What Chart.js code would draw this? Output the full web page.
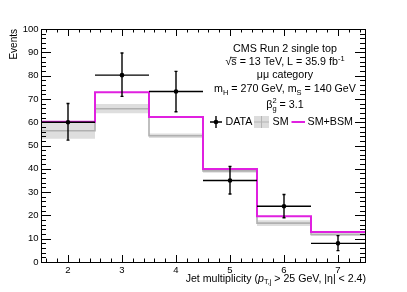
<!DOCTYPE html>
<html>
<head>
<meta charset="utf-8">
<script src="https://cdn.jsdelivr.net/npm/chart.js@4.4.0/dist/chart.umd.min.js"></script>
<style>
  html, body { margin: 0; padding: 0; background: #fff; }
  #wrap { width: 407px; height: 292px; }
</style>
</head>
<body>
<div id="wrap"><canvas id="chart" width="407" height="292"></canvas></div>
<script>
// bins of jet multiplicity
const binEdges = [1.5, 2.5, 3.5, 4.5, 5.5, 6.5, 7.5];
const jetBins = [2, 3, 4, 5, 6, 7];
const xTickLabels = ['2', '3', '4', '5', '6', '7'];

// observed data with asymmetric errors
const dataValues = [60, 80.2, 73.2, 35, 23.9, 8];
const dataErrUp = [8, 9.5, 8.6, 6, 5.1, 3.3];
const dataErrDown = [7.7, 9.1, 8.7, 5.8, 4.9, 3.1];

// SM prediction and its uncertainty band
const smValues = [56.3, 65.8, 54.2, 39.1, 16.7, 11.8];
const smErr = [3.4, 2, 1, 0.8, 1.2, 0.6];

// SM+BSM prediction
const bsmValues = [60.2, 72.9, 62.2, 39.9, 19.6, 12.9];

const FONT = '"Liberation Sans", Arial, Helvetica, sans-serif';

// histogram as stepped line: one point per left edge + closing point
function stepPoints(vals) {
    const pts = vals.map((v, i) => ({ x: binEdges[i], y: v }));
    pts.push({ x: binEdges[binEdges.length - 1], y: vals[vals.length - 1] });
    return pts;
}

function drawRich(ctx, segs, x, y, align, size) {
    let total = 0;
    segs.forEach(s => {
        ctx.font = `${s.italic ? 'italic ' : ''}${size * (s.scale || 1)}px ${FONT}`;
        s.w = ctx.measureText(s.t).width;
        if (!s.stack) total += s.w;
    });
    let cx = align === 'center' ? x - total / 2 : (align === 'right' ? x - total : x);
    let lastW = 0;
    ctx.textAlign = 'left';
    ctx.textBaseline = 'middle';
    segs.forEach(s => {
        ctx.font = `${s.italic ? 'italic ' : ''}${size * (s.scale || 1)}px ${FONT}`;
        if (s.stack) {
            ctx.fillText(s.t, cx - lastW, y + (s.dy || 0));
        } else {
            ctx.fillText(s.t, cx, y + (s.dy || 0));
            if (s.overline) {
                ctx.beginPath();
                ctx.lineWidth = 0.8;
                ctx.moveTo(cx - 1, y - size * 0.45);
                ctx.lineTo(cx + s.w, y - size * 0.45);
                ctx.stroke();
            }
            cx += s.w;
            lastW = s.w;
        }
    });
}

const decorPlugin = {
    id: 'decor',
    afterDatasetsDraw(chart) {
        const ctx = chart.ctx;
        const xs = chart.scales.x, ys = chart.scales.y, a = chart.chartArea;
        ctx.save();
        ctx.strokeStyle = '#000';
        ctx.fillStyle = '#000';

        // data points with error bars
        ctx.lineWidth = 1.4;
        jetBins.forEach((c, i) => {
            const px = xs.getPixelForValue(c);
            const py = ys.getPixelForValue(dataValues[i]);
            const x0 = xs.getPixelForValue(c - 0.5), x1 = xs.getPixelForValue(c + 0.5);
            const yt = ys.getPixelForValue(dataValues[i] + dataErrUp[i]);
            const yb = ys.getPixelForValue(dataValues[i] - dataErrDown[i]);
            ctx.beginPath();
            ctx.moveTo(x0, py); ctx.lineTo(x1, py);
            ctx.moveTo(px, yt); ctx.lineTo(px, yb);
            ctx.moveTo(px - 1.5, yt); ctx.lineTo(px + 1.5, yt);
            ctx.moveTo(px - 1.5, yb); ctx.lineTo(px + 1.5, yb);
            ctx.stroke();
            ctx.beginPath();
            ctx.arc(px, py, 2.3, 0, Math.PI * 2);
            ctx.fill();
        });

        // frame
        ctx.lineWidth = 1;
        ctx.strokeRect(Math.round(a.left) + 0.5, Math.round(a.top) + 0.5,
            Math.round(a.right - a.left), Math.round(a.bottom - a.top));

        // x ticks (bottom and top, inward)
        ctx.beginPath();
        for (let k = 8; k <= 37; k++) {
            const px = Math.round(xs.getPixelForValue(k / 5)) + 0.5;
            const len = k % 5 === 0 ? 7 : 3.5;
            ctx.moveTo(px, a.bottom); ctx.lineTo(px, a.bottom - len);
            ctx.moveTo(px, a.top); ctx.lineTo(px, a.top + len);
        }
        // y ticks (left and right, inward)
        for (let k = 1; k < 50; k++) {
            const py = Math.round(ys.getPixelForValue(k * 2)) + 0.5;
            const len = k % 5 === 0 ? 10 : 5;
            ctx.moveTo(a.left, py); ctx.lineTo(a.left + len, py);
            ctx.moveTo(a.right, py); ctx.lineTo(a.right - len, py);
        }
        ctx.stroke();

        // axis titles
        ctx.save();
        ctx.translate(14, 29);
        ctx.rotate(-Math.PI / 2);
        ctx.font = `10px ${FONT}`;
        ctx.textAlign = 'right';
        ctx.textBaseline = 'middle';
        ctx.fillText('Events', 0, 0);
        ctx.restore();

        drawRich(ctx, [
            { t: 'Jet multiplicity (' },
            { t: 'p', italic: true },
            { t: 'T,j', scale: 0.7, dy: 3 },
            { t: ' > 25 GeV, |\u03b7| < 2.4)' }
        ], 366, 279, 'right', 10.6);

        // info text
        const cx = 285;
        drawRich(ctx, [{ t: 'CMS Run 2 single top' }], cx, 49, 'center', 10.7);
        drawRich(ctx, [
            { t: '\u221a' }, { t: 's', overline: true },
            { t: ' = 13 TeV, L = 35.9 fb' }, { t: '-1', scale: 0.7, dy: -4 }
        ], cx, 62.5, 'center', 10.7);
        drawRich(ctx, [{ t: '\u03bc\u03bc category' }], cx, 75.5, 'center', 10.7);
        drawRich(ctx, [
            { t: 'm' }, { t: 'H', scale: 0.7, dy: 3.5 },
            { t: ' = 270 GeV, m' }, { t: 'S', scale: 0.7, dy: 3.5 },
            { t: ' = 140 GeV' }
        ], cx, 89.5, 'center', 10.7);
        drawRich(ctx, [
            { t: '\u03b2' }, { t: 'g', scale: 0.7, dy: 4 }, { t: '2', scale: 0.7, dy: -4, stack: true },
            { t: ' = 3.1' }
        ], cx, 105, 'center', 10.7);

        // legend
        const ly = 122;
        ctx.lineWidth = 1.4;
        ctx.beginPath();
        ctx.moveTo(210, ly); ctx.lineTo(222, ly);
        ctx.moveTo(216, ly - 6); ctx.lineTo(216, ly + 6);
        ctx.stroke();
        ctx.beginPath(); ctx.arc(216, ly, 2.3, 0, Math.PI * 2); ctx.fill();
        drawRich(ctx, [{ t: 'DATA' }], 225.5, ly, 'left', 10.7);

        ctx.fillStyle = '#dcdcdc';
        ctx.fillRect(254, ly - 6, 15, 12);
        ctx.strokeStyle = '#b4b4b4';
        ctx.lineWidth = 1;
        ctx.beginPath();
        ctx.moveTo(254, ly); ctx.lineTo(269, ly);
        ctx.moveTo(261.5, ly - 6); ctx.lineTo(261.5, ly + 6);
        ctx.stroke();
        ctx.fillStyle = '#000';
        drawRich(ctx, [{ t: 'SM' }], 272.5, ly, 'left', 10.7);

        ctx.strokeStyle = '#e020e0';
        ctx.lineWidth = 2;
        ctx.beginPath();
        ctx.moveTo(291.5, ly); ctx.lineTo(305, ly);
        ctx.stroke();
        drawRich(ctx, [{ t: 'SM+BSM' }], 307.5, ly, 'left', 10.7);

        ctx.restore();
    }
};

const smUpper = smValues.map((v, i) => v + smErr[i]);
const smLower = smValues.map((v, i) => v - smErr[i]);

new Chart(document.getElementById('chart'), {
    type: 'line',
    data: {
        datasets: [
            {
                label: 'SM+BSM',
                data: stepPoints(bsmValues),
                stepped: 'before',
                borderColor: '#e020e0',
                borderWidth: 2,
                pointRadius: 0,
                fill: false,
                order: 1
            },
            {
                label: 'SM',
                data: stepPoints(smValues),
                stepped: 'before',
                borderColor: '#b0b0b0',
                borderWidth: 1.6,
                pointRadius: 0,
                fill: false,
                order: 2
            },
            {
                label: 'SM up',
                data: stepPoints(smUpper),
                stepped: 'before',
                borderWidth: 0,
                borderColor: 'rgba(0,0,0,0)',
                backgroundColor: '#dedede',
                pointRadius: 0,
                fill: '+1',
                order: 3
            },
            {
                label: 'SM down',
                data: stepPoints(smLower),
                stepped: 'before',
                borderWidth: 0,
                borderColor: 'rgba(0,0,0,0)',
                pointRadius: 0,
                fill: false,
                order: 4
            }
        ]
    },
    options: {
        responsive: false,
        animation: false,
        layout: { padding: { left: 0, right: 42, top: 29, bottom: 0 } },
        plugins: {
            legend: { display: false },
            tooltip: { enabled: false }
        },
        scales: {
            x: {
                type: 'linear',
                min: 1.5,
                max: 7.5,
                grid: { display: false, drawTicks: false },
                border: { display: false },
                afterBuildTicks: (scale) => {
                    scale.ticks = jetBins.map(v => ({ value: v }));
                },
                afterFit: (scale) => { scale.height = 30; },
                ticks: {
                    padding: 3,
                    color: '#000',
                    font: { family: FONT, size: 9.5 },
                    callback: (v) => xTickLabels[jetBins.indexOf(v)] || ''
                }
            },
            y: {
                min: 0,
                max: 100,
                grid: { display: false, drawTicks: false },
                border: { display: false },
                afterFit: (scale) => { scale.width = 41; },
                ticks: {
                    stepSize: 10,
                    padding: 2.5,
                    color: '#000',
                    font: { family: FONT, size: 9.5 }
                }
            }
        }
    },
    plugins: [decorPlugin]
});
</script>
</body>
</html>
